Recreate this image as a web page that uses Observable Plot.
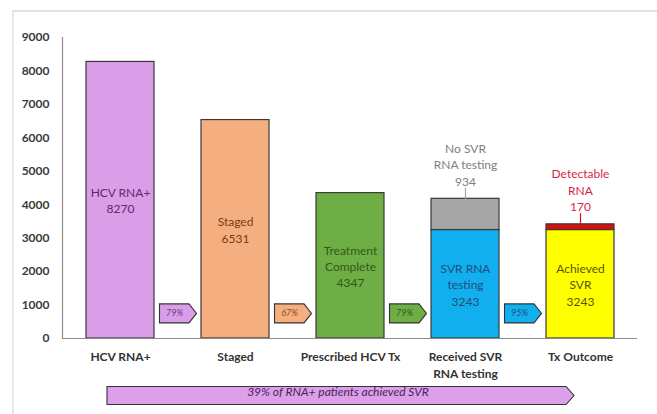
<!DOCTYPE html>
<html><head><meta charset="utf-8">
<script src="https://cdn.jsdelivr.net/npm/d3@7"></script>
<script src="https://cdn.jsdelivr.net/npm/@observablehq/plot@0.6"></script>
<style>
body{margin:0;background:#fff;}
#wrap{position:relative;width:657px;height:414px;overflow:hidden;background:#fff;}
#border{position:absolute;left:12px;top:10px;width:700px;height:500px;border-top:2px solid #e2e2e2;border-left:2px solid #e8e8e8;}
#chart{position:absolute;left:0;top:0;}
</style></head>
<body><div id="wrap"><div id="border"></div><div id="chart"></div></div>
<script>
// ---- data ----
const categories = ["HCV RNA+", "Staged", "Prescribed HCV Tx", "Received SVR\nRNA testing", "Tx Outcome"];
const mainValues = [8270, 6531, 4347, 3243, 3243];
const mainLabels = ["HCV RNA+\n8270", "Staged\n6531", "Treatment\nComplete\n4347", "SVR RNA\ntesting\n3243", "Achieved\nSVR\n3243"];
const barColors = ["#DA9DE8", "#F5AE80", "#6FAE45", "#12AFEF", "#FFFF00"];
const labelColors = ["#5B2A6C", "#7E3B10", "#2F5A1A", "#1F4E79", "#5A5300"];

const topCategories = ["Received SVR\nRNA testing", "Tx Outcome"];
const topBase = [3243, 3243];
const topValues = [934, 170];
const topLabels = ["No SVR\nRNA testing\n934", "Detectable\nRNA\n170"];
const topColors = ["#A6A6A6", "#D90F0F"];
const topTextColors = ["#808080", "#DC1E46"];

const stepFrom = ["HCV RNA+", "Staged", "Prescribed HCV Tx", "Received SVR\nRNA testing"];
const stepPercents = ["79%", "67%", "79%", "95%"];
const stepLevel = 750;
const stepFills = ["#DA9DE8", "#F5AE80", "#6FAE45", "#12AFEF"];
const stepTextColors = ["#6A3A7A", "#8A4A20", "#2F5A1A", "#1F4E79"];

const summaryText = "39% of RNA+ patients achieved SVR";
const yTicks = [0, 1000, 2000, 3000, 4000, 5000, 6000, 7000, 8000, 9000];

// ---- tables ----
const barRows = categories.map((c, i) => ({category: c, value: mainValues[i], fill: barColors[i]}))
  .concat(topCategories.map((c, i) => ({category: c, value: topValues[i], fill: topColors[i]})));
const mainRows = categories.map((c, i) => ({category: c, value: mainValues[i], label: mainLabels[i], color: labelColors[i]}));
const topRows = topCategories.map((c, i) => ({category: c, total: topBase[i] + topValues[i], label: topLabels[i], color: topTextColors[i], line: topColors[i]}));
const stepRows = stepFrom.map((c, i) => ({category: c, text: stepPercents[i], fill: stepFills[i], color: stepTextColors[i]}));

// ---- shapes ----
const smallArrow = {draw(ctx) {
  ctx.moveTo(-18.5, -9.5); ctx.lineTo(11, -9.5); ctx.lineTo(18.5, 0);
  ctx.lineTo(11, 9.5); ctx.lineTo(-18.5, 9.5); ctx.closePath();
}};
const bigArrow = {draw(ctx) {
  ctx.moveTo(-233, -9); ctx.lineTo(226, -9); ctx.lineTo(234, 0);
  ctx.lineTo(226, 9); ctx.lineTo(-233, 9); ctx.closePath();
}};
const leader = {draw(ctx) { ctx.moveTo(0, 0); ctx.lineTo(0, -11); }};

const chart = Plot.plot({
  width: 657,
  height: 414,
  marginLeft: 62,
  marginRight: 20,
  marginTop: 37,
  marginBottom: 76,
  style: {fontFamily: "Lato, 'Open Sans', sans-serif", fontSize: "12px", background: "transparent"},
  x: {domain: categories, paddingInner: 0.41, paddingOuter: 0.205, label: null},
  y: {domain: [0, 9000], label: null},
  color: {type: "identity"},
  marks: [
    Plot.frame({anchor: "left", stroke: "#8c8c8c", strokeWidth: 1.2}),
    Plot.axisY({ticks: yTicks, tickFormat: d => String(d), tickSize: 0, tickPadding: 13, fontWeight: "bold", fontSize: 12, fill: "#3a3a3a", label: null}),
    Plot.axisX({tickSize: 0, tickPadding: 11, fontWeight: "bold", fontSize: 12, fill: "#333", lineHeight: 1.4, label: null}),
    Plot.barY(barRows, {x: "category", y: "value", fill: "fill", stroke: "#3a3a3a", strokeWidth: 1.2}),
    Plot.ruleY([0], {stroke: "#8c8c8c", strokeWidth: 1.2}),
    Plot.text(mainRows, {x: "category", y: d => d.value / 2, text: "label", fill: "color", fontSize: 12, lineHeight: 1.35}),
    Plot.dot(topRows, {x: "category", y: "total", symbol: leader, stroke: "line", strokeWidth: 1.2, fill: "none"}),
    Plot.text(topRows, {x: "category", y: "total", text: "label", fill: "color", dy: -13, lineAnchor: "bottom", fontSize: 12, lineHeight: 1.38}),
    Plot.dot(stepRows, {x: "category", y: stepLevel, dx: 57.5, symbol: smallArrow, fill: "fill", stroke: "#333", strokeWidth: 1.1}),
    Plot.text(stepRows, {x: "category", y: stepLevel, dx: 54, text: "text", fill: "color", fontSize: 9, fontStyle: "italic"}),
    Plot.dot([summaryText], {frameAnchor: "bottom", dx: -10, dy: 57, symbol: bigArrow, fill: "#DCA0EA", stroke: "#333", strokeWidth: 1.1}),
    Plot.text([summaryText], {frameAnchor: "bottom", dx: -12, dy: 57, text: d => d, fill: "#4A2358", fontSize: 12, fontStyle: "italic"})
  ]
});
document.getElementById("chart").appendChild(chart);
</script>
</body></html>
